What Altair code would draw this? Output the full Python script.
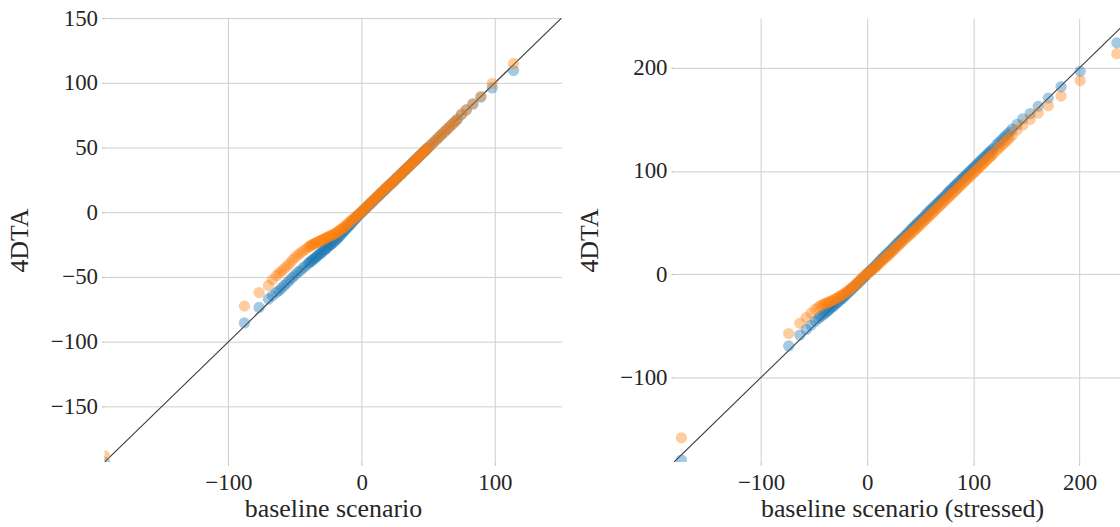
import altair as alt
import pandas as pd

# ---------------- data ----------------
# Left panel: baseline scenario quantiles (shared x) and two 4DTA series
xL = [-193, -88, -77, -70, -67, -64, -62, -60, -58, -56, -54, -52, -50, -48, -46, -44, -42,
      -40, -39, -38, -37, -36, -35, -34, -33, -32, -31, -30, -29, -28, -27, -26, -25, -24, -23, -22, -21,
      -20, -19, -18, -17, -16, -15, -14, -13, -12, -11, -10, -9, -8, -7, -6, -5, -4, -3, -2, -1,
      0, 1, 2, 3, 4, 5, 6, 7, 8, 9, 10, 11, 12, 13, 14, 15, 16, 17, 18, 19, 20,
      21, 22, 23, 24, 25, 26, 27, 28, 29, 30, 31, 32, 33, 34, 35, 36, 37, 38, 39, 40,
      41, 42, 43, 44, 45, 46, 47, 48, 49, 50,
      52, 54, 56, 58, 60, 62, 64, 66, 68, 70, 72, 75, 78.5, 83.5, 89.5, 98, 114]
blueL = [-193, -85.5, -73.5, -67, -64.5, -62, -60.5, -58.5, -56.5, -54.5, -52.5, -50.5, -48.5, -46.5, -45, -43, -41.5,
         -39.5, -38.5, -38, -37, -36, -35.5, -34.5, -33.5, -32.5, -32, -31, -30, -29, -28.5, -27.5, -26.5, -25.5, -25, -24, -23,
         -22, -21, -20, -19, -18, -16.5, -15.5, -14.5, -13.5, -12, -11, -10, -9, -7.5, -6.5, -5.5, -4.5, -3, -2, -1,
         0, 1, 2, 3, 4, 5, 6, 7, 8, 9, 10, 11, 12, 13, 14, 15, 16, 17, 18, 19, 20,
         21, 22, 23, 24, 25, 26, 27, 28, 29, 30, 31, 32, 33, 34, 35, 36, 37, 38, 39, 40,
         41, 42, 43, 44, 45, 46, 47, 48, 49, 50,
         52, 54, 56, 58, 60, 62, 64, 66, 68, 70, 72, 75.5, 79, 83.5, 89, 96, 109.5]
orangeL = [-188, -72.5, -62, -56.5, -52, -49, -47, -45.5, -43.5, -41.5, -39.5, -37, -35, -33, -31.5, -30, -28.5,
           -27, -26.5, -25.5, -25, -24.5, -24, -23.5, -23, -22.5, -22, -21.5, -21, -20.5, -20, -19.5, -19, -18.5, -18, -17.5, -17,
           -16.5, -16, -15, -14.5, -13.5, -13, -12, -11.5, -10.5, -9.5, -8.5, -7.5, -6.5, -6, -5, -4, -3, -2.5, -1.5, -0.5,
           0.5, 1.5, 2.5, 3.5, 4.5, 5.5, 6.5, 7.5, 8.5, 9.5, 10.5, 11.5, 12.5, 13.5, 14.5, 15.5, 16.5, 17.5, 18.5, 19.5, 20.5,
           21, 22, 23, 24, 25, 26, 27, 28, 29, 30, 31, 32, 33, 34, 35, 36, 37, 38, 39, 40,
           41, 42, 43, 44, 45, 46, 47, 48, 49, 50,
           52, 54, 56, 58, 60, 62, 64, 66, 68, 70, 72, 76, 79, 84, 89.5, 99.5, 115]

# Right panel: baseline scenario (stressed) quantiles (shared x) and two 4DTA series
xR = [-175, -74, -63.5, -57.5, -53, -49, -46, -44, -42,
      -40, -38.5, -37, -35.5, -34, -32.5, -31, -29.5, -28, -26.5, -25, -23.5, -22, -20.5, -19, -17.5,
      -16, -14.5, -13, -11.5, -10, -8.5, -7, -5.5, -4, -2.5, -1,
      0.5, 2, 3.5, 5, 6.5, 8, 9.5,
      11, 12.5, 14, 15.5, 17, 18.5, 20, 21.5, 23, 24.5,
      26, 27.5, 29, 30.5, 32, 33.5, 35, 36.5, 38, 39.5,
      41, 42.5, 44, 45.5, 47, 48.5, 50, 51.5, 53, 54.5,
      56, 57.5, 59, 60.5, 62, 63.5, 65, 66.5, 68, 69.5, 71, 72.5, 74,
      75.5, 77, 78.5, 80, 81.5, 83, 84.5, 86, 87.5, 89, 90.5, 92, 93.5, 95, 96.5, 98, 99.5,
      101, 102.5, 104, 105.5, 107, 108.5, 110, 111.5, 113, 114.5, 116, 117.5, 119,
      122, 124, 126, 128, 130, 132, 134, 136.5, 141, 146.5, 153.5, 161, 170.5, 182.5, 200.5, 235]
blueR = [-180, -69.5, -59, -53.5, -49.5, -45.5, -43, -41, -39.5,
         -38, -36.5, -35.5, -34, -32.5, -31.5, -30, -28.5, -27.5, -26, -24.5, -23.5, -22, -20.5, -19, -17.5,
         -16, -14.5, -13, -11.5, -10, -8.5, -7, -5.5, -4, -2.5, -1,
         1, 2.5, 4, 5.5, 7, 8.5, 10,
         12, 13.5, 15, 16.5, 18, 19.5, 21, 22.5, 24, 25.5,
         27.5, 29, 30.5, 32, 33.5, 35, 36.5, 38, 39.5, 41,
         43, 44.5, 46, 47.5, 49, 50.5, 52, 53.5, 55, 56.5,
         58.5, 60, 61.5, 63, 64.5, 66, 67.5, 69, 70.5, 72, 73.5, 75, 76.5,
         78.5, 80, 81.5, 83, 84.5, 86, 87.5, 89, 90.5, 92, 93.5, 95, 96.5, 98, 99.5, 101, 102.5,
         104, 105.5, 107, 108.5, 110, 111.5, 113, 114.5, 116, 117.5, 119, 120.5, 122,
         125.5, 127.5, 129.5, 131.5, 133.5, 135.5, 137.5, 140.5, 145, 150.5, 155.5, 162.5, 170.5, 181.5, 196.5, 224]
orangeR = [-158.5, -57.5, -47.5, -42, -37.5, -34, -32, -30.5, -29.5,
           -28.5, -28, -27.5, -26.5, -26, -25.5, -24.5, -23.5, -23, -22, -21, -20, -19, -18, -17, -15.5,
           -14.5, -13, -12, -10.5, -9, -7.5, -6, -4.5, -3, -1.5, 0,
           1, 2, 3, 4.5, 6, 7, 8.5,
           10, 11.5, 13, 14.5, 16, 17, 18.5, 20, 21.5, 23,
           24.5, 26, 27.5, 29, 30.5, 32, 33.5, 35, 36.5, 38,
           39, 40.5, 42, 43.5, 45, 46.5, 48, 49.5, 51, 52.5,
           54, 55.5, 57, 58.5, 60, 61.5, 63, 64.5, 66, 67.5, 69, 70.5, 72,
           73.5, 75, 76.5, 78, 79.5, 81, 82.5, 84, 85.5, 87, 88.5, 90, 91.5, 93, 94.5, 96, 97.5,
           99, 100.5, 102, 103.5, 105, 106.5, 108, 109.5, 111, 112.5, 114, 115.5, 117,
           120, 122, 124, 126, 128, 130, 132, 134.5, 139.5, 144.5, 150, 156, 163, 172.5, 187.5, 213.5]

series_names = ["blue", "orange"]
series_colors = ["#1f77b4", "#ff7f0e"]

left_lims = [-193, 150]
right_lims = [-182, 248]
right_xmax_visible = 238

left_xticks = [-100, 0, 100]
left_yticks = [-150, -100, -50, 0, 50, 100, 150]
right_xticks = [-100, 0, 100, 200]
right_yticks = [-100, 0, 100, 200]

assert len(xL) == len(blueL) == len(orangeL), (len(xL), len(blueL), len(orangeL))
assert len(xR) == len(blueR) == len(orangeR), (len(xR), len(blueR), len(orangeR))


def points_df(x, yb, yo):
    rows = [{"x": a, "y": b, "s": series_names[0]} for a, b in zip(x, yb)]
    rows += [{"x": a, "y": b, "s": series_names[1]} for a, b in zip(x, yo)]
    return pd.DataFrame(rows)


FONT = "Liberation Serif"
TXT = "#262626"


def panel(df, lims, xdom, xticks, yticks, xtitle, w, h, xtitle_x):
    xs = alt.Scale(domain=xdom, nice=False, zero=False)
    ys = alt.Scale(domain=lims, nice=False, zero=False)
    xax = alt.Axis(values=xticks, title=xtitle, labelPadding=7, titleY=55,
                   titleBaseline="alphabetic", titleX=xtitle_x,
                   labelFont=FONT, titleFont=FONT)
    yax = alt.Axis(values=yticks, title="4DTA", labelPadding=4, titleX=-77,
                   titleBaseline="alphabetic", labelFont=FONT, titleFont=FONT)
    diag = pd.DataFrame({"x": lims, "y": lims})
    line = alt.Chart(diag).mark_line(color="#3a3a3a", strokeWidth=1.1, clip=True).encode(
        x=alt.X("x:Q", scale=xs, axis=xax),
        y=alt.Y("y:Q", scale=ys, axis=yax),
    )
    pts = alt.Chart(df).mark_circle(size=128, opacity=0.4, clip=True).encode(
        x=alt.X("x:Q", scale=xs, axis=xax),
        y=alt.Y("y:Q", scale=ys, axis=yax),
        color=alt.Color("s:N", scale=alt.Scale(domain=series_names, range=series_colors), legend=None),
    )
    return alt.layer(line, pts).properties(width=w, height=h)


left = panel(points_df(xL, blueL, orangeL), left_lims, left_lims, left_xticks, left_yticks,
             "baseline scenario", 459, 446, 229.5)
right = panel(points_df(xR, blueR, orangeR), right_lims, [right_lims[0], right_xmax_visible],
              right_xticks, right_yticks, "baseline scenario (stressed)", 448, 446, 229)

chart = alt.hconcat(left, right, spacing=15).properties(
    padding={"left": 7, "top": 6, "right": 0, "bottom": 0},
    background="white",
).configure_view(stroke=None).configure_axis(
    domain=False, grid=True, gridColor="#cfcfcf", gridWidth=1,
    ticks=True, tickColor="#b5b5b5", tickSize=3,
    labelFont=FONT, labelFontSize=23, labelColor=TXT,
    titleFont=FONT, titleFontSize=26, titleFontWeight="normal", titleColor=TXT,
)

chart.save("out.html", embed_options={"renderer": "svg", "actions": False})
